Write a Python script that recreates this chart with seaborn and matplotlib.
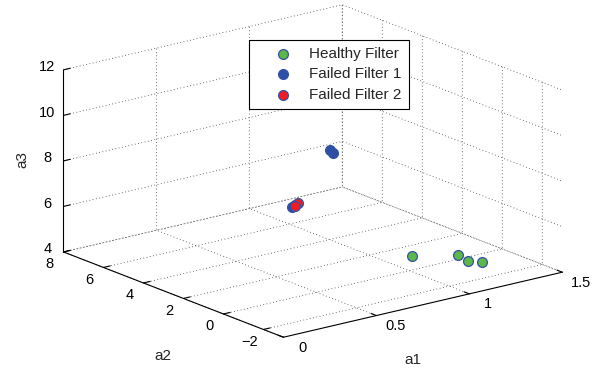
import numpy as np
import matplotlib
matplotlib.use("Agg")
import matplotlib.pyplot as plt
import seaborn as sns

# ---- data ----
healthy_a1 = [1.04, 1.20, 1.18, 1.22]
healthy_a2 = [0.22, -0.56, -1.25, -1.60]
healthy_a3 = [4.5, 4.5, 4.5, 4.5]

failed1_a1 = [0.575, 0.591, 0.371, 0.387]
failed1_a2 = [0.0, 0.0, 0.0, 0.0]
failed1_a3 = [10.1, 9.95, 7.99, 8.05]

failed2_a1 = [0.387, 0.403]
failed2_a2 = [0.0, 0.0]
failed2_a3 = [8.0, 8.1]

series_names = ["Healthy Filter", "Failed Filter 1", "Failed Filter 2"]
series_colors = ["#5cb848", "#2d4fa6", "#ee1d23"]
edge_color = "#3352a3"

a1_ticks = [0, 0.5, 1, 1.5]
a2_ticks = [-2, 0, 2, 4, 6, 8]
a3_ticks = [4, 6, 8, 10, 12]
a1_lim = (0, 1.5)
a2_lim = (-3, 8)
a3_lim = (4, 12)

sns.set_theme(style="white")
plt.rcParams["font.family"] = ["Liberation Sans", "DejaVu Sans"]

W, H = 600, 369
fig = plt.figure(figsize=(W / 100, H / 100), dpi=100)
ax = fig.add_axes([0.1, 0.0, H / W, 1.0], projection="3d", proj_type="ortho")
ax.view_init(elev=17.5, azim=-127.8)
ax.set_box_aspect((353, 359, 191))
ax.computed_zorder = False

series = [
    (healthy_a1, healthy_a2, healthy_a3),
    (failed1_a1, failed1_a2, failed1_a3),
    (failed2_a1, failed2_a2, failed2_a3),
]
for name, (xs, ys, zs), col in zip(series_names, series, series_colors):
    ax.scatter(xs, ys, zs, s=50, c=col, edgecolors=edge_color, linewidths=0.9,
               depthshade=False, label=name)

ax.set_xlim(a1_lim)
ax.set_ylim(a2_lim)
ax.set_zlim(a3_lim)
ax.set_xticks(a1_ticks)
ax.set_yticks(a2_ticks)
ax.set_zticks(a3_ticks)
ax.set_xticklabels([f"{t:g}" for t in a1_ticks])
ax.set_yticklabels([f"{t:g}".replace("-", "\u2212") for t in a2_ticks])
ax.set_zticklabels([f"{t:g}" for t in a3_ticks])
ax.tick_params(labelsize=10.5, colors="black")

for axis in (ax.xaxis, ax.yaxis, ax.zaxis):
    axis.set_pane_color((1, 1, 1, 0))
    axis.pane.set_edgecolor((1, 1, 1, 0))
    axis.line.set_color("black")
    axis.line.set_linewidth(0.8)
    axis._axinfo["grid"].update(color="#444444", linewidth=0.6, linestyle=(0, (1, 3)))
    axis._axinfo["tick"].update(inward_factor=0.0, outward_factor=0.3)
    axis._axinfo["tick"]["linewidth"] = {True: 0.8, False: 0.5}
ax.grid(True)

# directions in which the tick labels are pushed away from their axis (MATLAB-like)
ax.xaxis._axmask = lambda: [0.0, 1.0, 0.2]
ax.yaxis._axmask = lambda: [1.0, 0.0, 1.0]
ax.zaxis._axmask = lambda: [0.6, 1.4, 0.0]

# axis titles at the reference positions
fig.text(413 / W, 1 - 360 / H, "a1", fontsize=11, ha="center", va="center")
fig.text(163 / W, 1 - 356 / H, "a2", fontsize=11, ha="center", va="center")
fig.text(22 / W, 1 - 159 / H, "a3", fontsize=11, ha="center", va="center", rotation=90)

leg = ax.legend(loc="upper left", bbox_to_anchor=(249 / W, 1 - 40 / H),
                bbox_transform=fig.transFigure, frameon=True, fancybox=False,
                edgecolor="black", framealpha=1, fontsize=11, handlelength=3.5,
                handletextpad=0.0, borderaxespad=0, scatterpoints=1,
                borderpad=0.45, labelspacing=0.42)
leg.get_frame().set_linewidth(0.8)

# ---- layout calibration: place the 3D box where the reference has it ----
corners = [(0, -3, 4), (1.5, 8, 12), (0, 8, 4), (1.5, -3, 4), (0, 8, 12)]
targets = np.array([(285, 337), (342, 5), (63, 252), (562, 272), (63, 70)], float)
targets[:, 1] = H - targets[:, 1]

fig.canvas.draw()

def project(pt):
    v = ax.M @ np.array([pt[0], pt[1], pt[2], 1.0])
    return ax.transData.transform((v[0] / v[3], v[1] / v[3]))

cur = np.array([project(p) for p in corners])
bb = ax.get_position().transformed(fig.transFigure)
c = np.array([(bb.x0 + bb.x1) / 2, (bb.y0 + bb.y1) / 2])
side = bb.width
mc, mt = cur.mean(0), targets.mean(0)
k = np.sum((targets - mt) * (cur - mc)) / np.sum((cur - mc) ** 2)
c_new = mt - k * (mc - c)
s_new = side * k
ax.set_position([(c_new[0] - s_new / 2) / W, (c_new[1] - s_new / 2) / H, s_new / W, s_new / H])
fig.canvas.draw()

# tick-label distances (fraction of each axis range) as in the reference
ax_pts = sum(72.0 * np.asarray(ax.bbox.size) / fig.dpi)
for axis, frac in ((ax.xaxis, 0.085), (ax.yaxis, 0.049), (ax.zaxis, 0.0337)):
    axis.set_tick_params(pad=frac * ax_pts / 3.84 - 8.0)
    for tk in axis.get_major_ticks():
        tk.label1.set_verticalalignment("center")
        tk.label1.set_horizontalalignment("center")

fig.savefig("out.png", dpi=100)
